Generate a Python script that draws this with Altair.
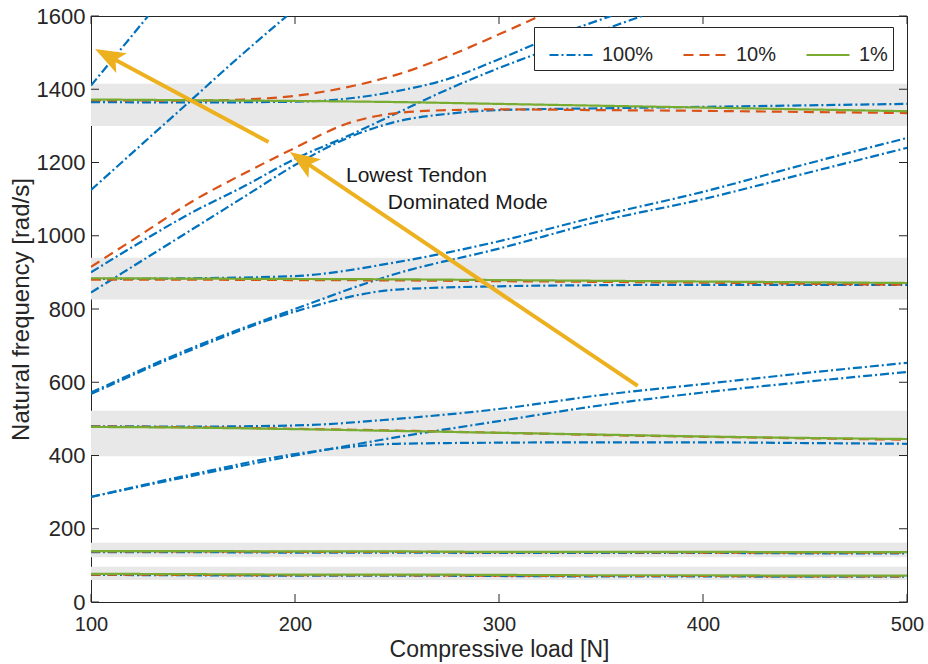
import math
import altair as alt
import pandas as pd

# ---- axes -------------------------------------------------------------
X_DOMAIN = [100, 500]
Y_DOMAIN = [0, 1600]
X_TICKS = [100, 200, 300, 400, 500]
Y_TICKS = [0, 200, 400, 600, 800, 1000, 1200, 1400, 1600]

SERIES = ["100%", "10%", "1%"]
COLORS = ["#0072BD", "#D95319", "#77AC30"]
DASHES = [[9, 3, 2, 3], [10, 6], [1, 0]]

# ---- natural frequencies [rad/s] vs compressive load [N] ---------------
LOADS = [100, 150, 200, 250, 300, 350, 400, 450, 500]

# 100 % tendon stiffness
B_BAND5 = [74, 73, 72, 72, 71, 70, 70, 69, 69]
B_BAND4 = [136, 136, 135, 135, 134, 134, 134, 133, 133]
B_MODE3_UP = [480, 479, 482, 500, 527, 565, 595, 625, 653]
B_MODE3_RISE = [287, 345, 400, 450, 494, 537, 572, 601, 628]
B_MODE3_FLAT = [287, 349, 404, 432, 435, 436, 436, 434, 432]
B_MODE2_FLAT = [568, 690, 793, 853, 862, 865, 866, 866, 866]
B_MODE2_RISE = [572, 695, 800, 897, 965, 1040, 1100, 1170, 1240]
B_MODE2_UP = [882, 884, 890, 928, 985, 1055, 1120, 1195, 1267]

B_TEND_A_LOAD = [100, 125, 150, 175, 200, 225, 250, 275, 300, 325, 350, 370]
B_TEND_A = [900, 985, 1065, 1135, 1210, 1270, 1335, 1400, 1458, 1510, 1560, 1600]
B_TEND_B_LOAD = [100, 125, 150, 175, 200, 225, 250, 275, 300, 350, 400, 450, 500]
B_TEND_B = [845, 932, 1019, 1106, 1193, 1265, 1312, 1333, 1343, 1348, 1352, 1356, 1360]
B_MODE1_LOAD = [100, 150, 200, 225, 250, 275, 300, 325, 355]
B_MODE1 = [1365, 1364, 1366, 1374, 1395, 1428, 1482, 1540, 1600]
B_TEND_C_LOAD = [100, 125, 150, 173, 196]
B_TEND_C = [1125, 1250, 1375, 1490, 1600]
B_TEND_D_LOAD = [100, 114, 128]
B_TEND_D = [1410, 1505, 1600]

# 10 % tendon stiffness
O_BAND5 = [75, 74, 73, 73, 72, 71, 71, 70, 70]
O_BAND4 = [138, 138, 137, 137, 136, 136, 135, 135, 135]
O_MODE3 = [479, 477, 473, 468, 462, 456, 451, 447, 443]
O_MODE2 = [880, 880, 879, 878, 876, 874, 872, 869, 866]
O_TEND_LOAD = [100, 125, 150, 175, 200, 225, 250, 275, 300, 350, 400, 450, 500]
O_TEND = [915, 1005, 1095, 1170, 1240, 1305, 1335, 1343, 1345, 1343, 1341, 1338, 1335]
O_MODE1_LOAD = [100, 150, 175, 200, 225, 250, 275, 300, 320]
O_MODE1 = [1370, 1369, 1372, 1382, 1405, 1440, 1490, 1550, 1600]

# 1 % tendon stiffness
G_BAND5 = [77, 76, 75, 75, 74, 73, 73, 72, 72]
G_BAND4 = [139, 139, 138, 138, 137, 137, 137, 136, 136]
G_MODE3 = [478, 476, 472, 467, 462, 457, 452, 448, 445]
G_MODE2 = [884, 883, 882, 881, 879, 877, 875, 873, 871]
G_MODE1 = [1372, 1370, 1368, 1365, 1360, 1355, 1350, 1345, 1340]

# shaded frequency bands of the structural modes
BAND_LOW = [60, 122, 398, 826, 1300]
BAND_HIGH = [96, 162, 522, 940, 1415]

# annotation arrows (tail -> tip, in data units) and label
ARROW_TAIL_LOAD = [187, 368]
ARROW_TAIL_FREQ = [1256, 590]
ARROW_TIP_LOAD = [102, 197.5]
ARROW_TIP_FREQ = [1510, 1229]
NOTE_LINES = ["Lowest Tendon", "Dominated Mode"]
NOTE_LOAD = [225, 245.5]
NOTE_FREQ = [1163, 1089]

# ---- layout -----------------------------------------------------------
W, H = 816, 586
PAD = {"left": 91, "top": 16, "right": 21, "bottom": 62}
FONT = "Liberation Sans"
INK = "#262626"
YELLOW = "#EDB120"
TICK_LEN = 8
LINE_W = 2.2

curve_specs = [
    ("100%", LOADS, B_BAND5), ("100%", LOADS, B_BAND4),
    ("100%", LOADS, B_MODE3_UP), ("100%", LOADS, B_MODE3_RISE),
    ("100%", LOADS, B_MODE3_FLAT), ("100%", LOADS, B_MODE2_FLAT),
    ("100%", LOADS, B_MODE2_RISE), ("100%", LOADS, B_MODE2_UP),
    ("100%", B_TEND_A_LOAD, B_TEND_A), ("100%", B_TEND_B_LOAD, B_TEND_B),
    ("100%", B_MODE1_LOAD, B_MODE1), ("100%", B_TEND_C_LOAD, B_TEND_C),
    ("100%", B_TEND_D_LOAD, B_TEND_D),
    ("10%", LOADS, O_BAND5), ("10%", LOADS, O_BAND4), ("10%", LOADS, O_MODE3),
    ("10%", LOADS, O_MODE2), ("10%", O_TEND_LOAD, O_TEND),
    ("10%", O_MODE1_LOAD, O_MODE1),
    ("1%", LOADS, G_BAND5), ("1%", LOADS, G_BAND4), ("1%", LOADS, G_MODE3),
    ("1%", LOADS, G_MODE2), ("1%", LOADS, G_MODE1),
]

rows = []
for cid, (series, xs, ys) in enumerate(curve_specs):
    for x, y in zip(xs, ys):
        rows.append({"load": x, "freq": y, "series": series, "curve": cid})
curves = pd.DataFrame(rows)

bands = pd.DataFrame({"load": X_DOMAIN[0], "load2": X_DOMAIN[1],
                      "freq": BAND_LOW, "freq2": BAND_HIGH})

# arrow geometry: pixel scale factors give the on-screen direction
kx = W / (X_DOMAIN[1] - X_DOMAIN[0])
ky = H / (Y_DOMAIN[1] - Y_DOMAIN[0])
HEAD_LEN = 30
arrow_rows = []
for tx, ty, hx, hy in zip(ARROW_TAIL_LOAD, ARROW_TAIL_FREQ, ARROW_TIP_LOAD, ARROW_TIP_FREQ):
    dx = (hx - tx) * kx
    dy = -(hy - ty) * ky
    n = math.hypot(dx, dy)
    ux, uy = dx / n, dy / n
    ang = math.degrees(math.atan2(dx, -dy)) % 360
    back = HEAD_LEN * 0.6
    arrow_rows.append({
        "load": tx, "freq": ty,
        "load2": hx - back * ux / kx, "freq2": hy + back * uy / ky,
        "tip_load": hx, "tip_freq": hy, "angle": ang,
    })
arrows = pd.DataFrame(arrow_rows)
heads = arrows[["tip_load", "tip_freq", "angle"]].rename(
    columns={"tip_load": "load", "tip_freq": "freq"})

notes = pd.DataFrame({"load": NOTE_LOAD, "freq": NOTE_FREQ, "text": NOTE_LINES})
yticks = pd.DataFrame({"freq": Y_TICKS})
xticks = pd.DataFrame({"load": X_TICKS})

x_axis = alt.Axis(values=X_TICKS, ticks=False, domain=False, grid=False,
                  labelFlush=False, format="d",
                  labelPadding=12, labelFontSize=20, labelColor=INK,
                  title="Compressive load [N]", titleFontSize=23,
                  titleFontWeight="normal", titleColor=INK, titlePadding=4)
y_axis = alt.Axis(values=Y_TICKS, ticks=False, domain=False, grid=False,
                  labelFlush=False, format="d",
                  labelPadding=6, labelFontSize=22, labelColor=INK,
                  title="Natural frequency [rad/s]", titleFontSize=24,
                  titleFontWeight="normal", titleColor=INK, titlePadding=3)
x_scale = alt.Scale(domain=X_DOMAIN, nice=False, zero=False)
y_scale = alt.Scale(domain=Y_DOMAIN, nice=False, zero=False)


def X(field="load"):
    return alt.X(f"{field}:Q", scale=x_scale, axis=x_axis)


def Y(field="freq"):
    return alt.Y(f"{field}:Q", scale=y_scale, axis=y_axis)


band_layer = alt.Chart(bands).mark_rect(color="#E8E8E8").encode(
    x=X(), x2="load2:Q", y=Y(), y2="freq2:Q")

legend = alt.Legend(title=None, orient="none", legendX=443, legendY=11,
                    direction="horizontal", symbolType="stroke",
                    symbolSize=1850, symbolStrokeWidth=LINE_W,
                    symbolOffset=9,
                    labelFontSize=20, labelColor=INK, labelFont=FONT,
                    labelOffset=8, columnPadding=19, padding=5,
                    strokeColor=INK, fillColor="white", cornerRadius=0)
color = alt.Color("series:N", scale=alt.Scale(domain=SERIES, range=COLORS), legend=legend)
dash = alt.StrokeDash("series:N", scale=alt.Scale(domain=SERIES, range=DASHES), legend=legend)

line_layers = []
for s in SERIES:
    line_layers.append(
        alt.Chart(curves).transform_filter(alt.datum.series == s)
        .mark_line(strokeWidth=LINE_W, clip=True, interpolate="monotone")
        .encode(x=X(), y=Y(), color=color, strokeDash=dash, detail="curve:N")
    )

tick_style = dict(color=INK, strokeWidth=1)
left_ticks = alt.Chart(yticks).mark_rule(**tick_style).encode(
    y=Y(), x=alt.value(0), x2=alt.value(TICK_LEN))
right_ticks = alt.Chart(yticks).mark_rule(**tick_style).encode(
    y=Y(), x=alt.value(W - TICK_LEN), x2=alt.value(W))
bottom_ticks = alt.Chart(xticks).mark_rule(**tick_style).encode(
    x=X(), y=alt.value(H - TICK_LEN), y2=alt.value(H))
top_ticks = alt.Chart(xticks).mark_rule(**tick_style).encode(
    x=X(), y=alt.value(0), y2=alt.value(TICK_LEN))

shafts = alt.Chart(arrows).mark_rule(color=YELLOW, strokeWidth=4).encode(
    x=X(), y=Y(), x2="load2:Q", y2="freq2:Q")
head_shape = "M0,0 L0.75,2 L0,1.55 L-0.75,2 Z"
arrow_heads = alt.Chart(heads).mark_point(
    shape=head_shape, filled=True, fill=YELLOW, strokeWidth=0, opacity=1,
    size=(HEAD_LEN / 2) ** 2 * 4,
).encode(x=X(), y=Y(), angle=alt.Angle("angle:Q", scale=None))

note_layer = alt.Chart(notes).mark_text(
    align="left", baseline="middle", fontSize=21, font=FONT, color="#1a1a1a"
).encode(x=X(), y=Y(), text="text:N")

chart = alt.layer(
    band_layer, *line_layers,
    left_ticks, right_ticks, bottom_ticks, top_ticks,
    shafts, arrow_heads, note_layer,
).properties(
    width=W, height=H, padding=PAD, autosize=alt.AutoSizeParams(type="none"),
    background="white",
).configure(font=FONT).configure_view(stroke=INK, strokeWidth=1)

chart.save("out.html", embed_options={"renderer": "svg", "actions": False})
